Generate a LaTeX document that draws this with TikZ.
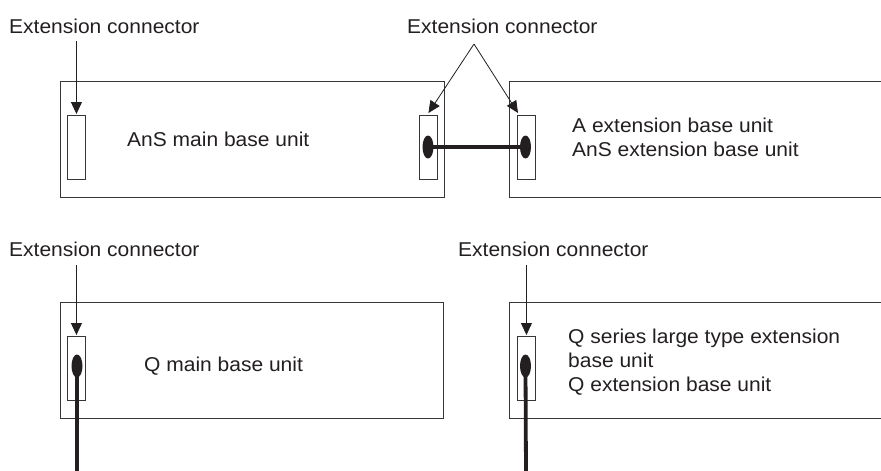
\documentclass[tikz,border=0pt]{standalone}
\usepackage{fontspec}
\setmainfont{Liberation Sans}[FakeStretch=1.05]
\usetikzlibrary{shapes.geometric,arrows.meta}
\definecolor{ink}{HTML}{231F20}
\begin{document}
\begin{tikzpicture}[x=1pt,y=-1pt,
  unitbox/.style={draw=ink!90, line width=1.1pt, anchor=north west, inner sep=0pt, minimum height=116pt},
  conbox/.style={draw=ink!90, line width=0.9pt, anchor=north west, inner sep=0pt, minimum width=18pt, minimum height=64pt},
  plug/.style={ellipse, fill=ink, draw=none, inner sep=0pt, minimum width=11pt, minimum height=23pt},
  cable/.style={draw=ink, line width=3.8pt},
  lbl/.style={anchor=base west, inner sep=0pt, text=ink, font=\fontsize{20}{24}\selectfont},
  ptr/.style={draw=ink, line width=0.8pt, -{Triangle[length=12pt,width=11pt]}}
]
\useasboundingbox (0,0) rectangle (881,471);
% top row
\node[unitbox, minimum width=384pt] (m1) at (60,81) {};
\node[unitbox, minimum width=400pt] (e1) at (509,81) {};
\node[conbox] (c1) at (67,115) {};
\node[conbox] (c2) at (419,115) {};
\node[conbox] (c3) at (517,115) {};
\node[plug] (p2) at (428,147) {};
\node[plug] (p3) at (525.5,147) {};
\draw[cable] (p2.center) -- (p3.center);
\node[lbl] (l1) at (9,33.5) {Extension connector};
\node[lbl] (l2) at (407,33.5) {Extension connector};
\coordinate (apex) at (474,44);
\draw[ptr] (c1.north |- 0,41) -- ([yshift=1pt]c1.north);
\draw[ptr] (apex) -- ([yshift=2pt]c2.north);
\draw[ptr] (apex) -- ([xshift=1pt,yshift=2pt]c3.north west);
\node[lbl] (t1) at (127,146.5) {AnS main base unit};
\node[lbl, align=left, anchor=north west] (t2) at (572,118) {A extension base unit\\AnS extension base unit};
% bottom row
\node[unitbox, minimum width=383pt] (m2) at (60,302) {};
\node[unitbox, minimum width=400pt] (e2) at (509,302) {};
\node[conbox] (c4) at (67,336) {};
\node[conbox] (c5) at (517,336) {};
\node[plug] (p4) at (77,366) {};
\node[plug] (p5) at (525.5,366) {};
\coordinate (end4) at (77,475);
\coordinate (end5) at (526,475);
\draw[cable] (p4.center) -- (end4);
\draw[cable] (p5.center) -- (end5);
\node[lbl] (l3) at (9,256.5) {Extension connector};
\node[lbl] (l4) at (458,256.5) {Extension connector};
\draw[ptr] (c4.north |- 0,265) -- ([yshift=1pt]c4.north);
\draw[ptr] (c5.north |- 0,265) -- ([yshift=1pt]c5.north);
\node[lbl] (t3) at (144,371.5) {Q main base unit};
\node[lbl, align=left, anchor=north west] (t4) at (568,329) {Q series large type extension\\base unit\\Q extension base unit};
\end{tikzpicture}
\end{document}
